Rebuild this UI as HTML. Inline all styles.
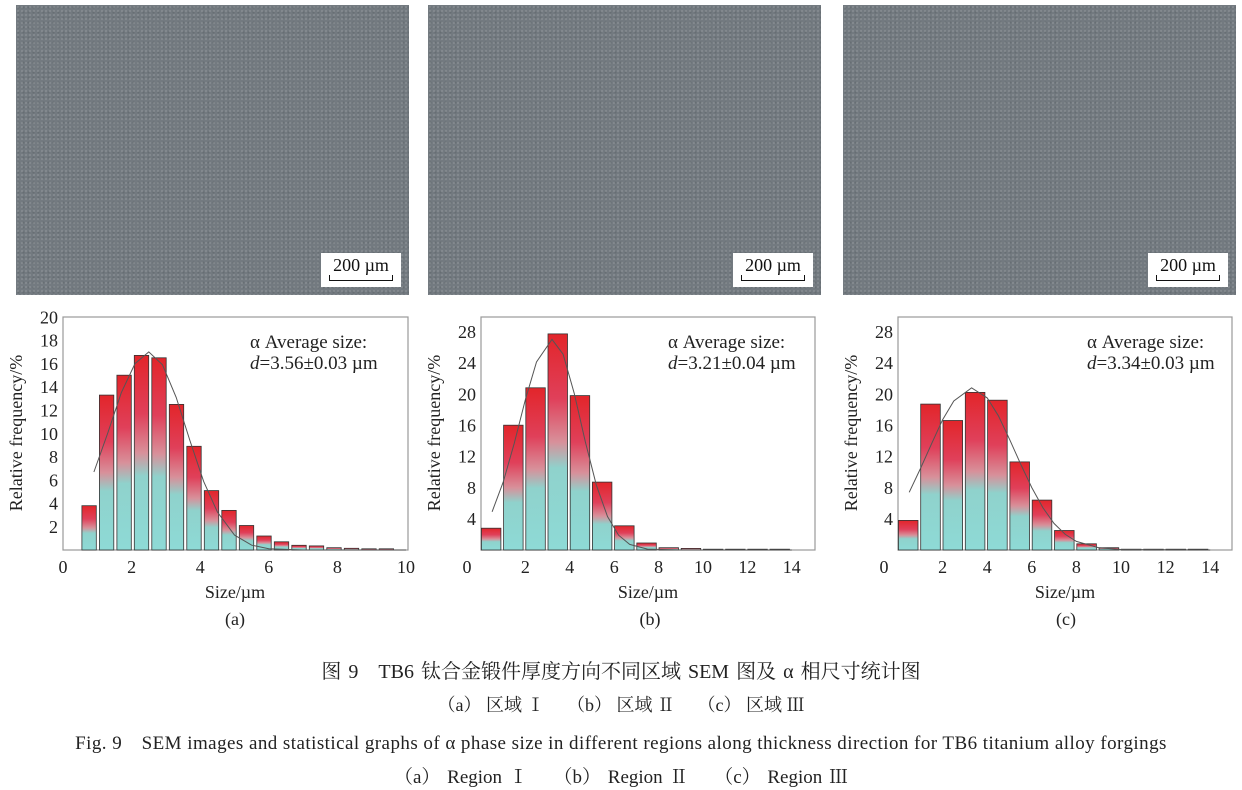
<!DOCTYPE html>
<html><head><meta charset="utf-8"><style>
body{margin:0;background:#fff;width:1242px;height:790px;overflow:hidden;position:relative;font-family:"Liberation Serif","Noto Serif CJK SC",serif;}
.sem{position:absolute;top:5px;height:290px;background:#737a80;background-image:radial-gradient(rgba(255,255,255,.12) 1px,transparent 1.2px),radial-gradient(rgba(0,0,0,.1) 1px,transparent 1.2px);background-size:4px 4px,5px 5px;}
.sb{position:absolute;right:8px;bottom:8px;width:80px;height:34px;background:#fff;text-align:center;font-size:18px;line-height:24px;color:#111;}
.sb i{position:absolute;left:8px;right:8px;bottom:6px;height:5px;border:1px solid #111;border-top:none;}
.cap{position:absolute;left:0;width:1242px;text-align:center;color:#222;white-space:nowrap}
svg{position:absolute;left:0;top:0}
svg text{font-family:"Liberation Serif",serif;font-size:18px;fill:#222}
.bars rect{fill:url(#g);stroke:#333;stroke-width:.8}
.yt text{text-anchor:end}
.xt text{text-anchor:middle}
.fit{fill:none;stroke:#555;stroke-width:1}
.av{font-size:19px!important}
</style></head><body>
<div class="sem" style="left:16px;width:393px"><div class="sb">200 µm<i></i></div></div>
<div class="sem" style="left:428px;width:393px"><div class="sb">200 µm<i></i></div></div>
<div class="sem" style="left:843px;width:393px"><div class="sb">200 µm<i></i></div></div>
<svg width="1242" height="790">
<defs><linearGradient id="g" x1="0" y1="0" x2="0" y2="1">
<stop offset="0" stop-color="#e2252a"/><stop offset="0.3" stop-color="#e0405a"/><stop offset="0.5" stop-color="#d8909a"/><stop offset="0.62" stop-color="#8fd2cc"/><stop offset="1" stop-color="#8edad6"/></linearGradient></defs>

<rect x="63" y="317" width="345" height="233" fill="#fff" stroke="#999" stroke-width="1.2"/>
<g class="bars">
<rect x="81.9" y="505.7" width="14.4" height="44.3"/>
<rect x="99.4" y="395.1" width="14.4" height="154.9"/>
<rect x="116.9" y="375.2" width="14.4" height="174.8"/>
<rect x="134.3" y="355.4" width="14.4" height="194.6"/>
<rect x="151.8" y="357.8" width="14.4" height="192.2"/>
<rect x="169.3" y="404.4" width="14.4" height="145.6"/>
<rect x="186.8" y="446.3" width="14.4" height="103.7"/>
<rect x="204.3" y="490.6" width="14.4" height="59.4"/>
<rect x="221.8" y="510.4" width="14.4" height="39.6"/>
<rect x="239.3" y="525.5" width="14.4" height="24.5"/>
<rect x="256.8" y="536" width="14.4" height="14"/>
<rect x="274.3" y="541.8" width="14.4" height="8.2"/>
<rect x="291.8" y="545.3" width="14.4" height="4.7"/>
<rect x="309.3" y="545.9" width="14.4" height="4.1"/>
<rect x="326.8" y="547.7" width="14.4" height="2.3"/>
<rect x="344.3" y="548.3" width="14.4" height="1.7"/>
<rect x="361.8" y="548.8" width="14.4" height="1.2"/>
<rect x="379.2" y="548.8" width="14.4" height="1.2"/>
</g>
<polyline class="fit" points="93.9,472 107.6,433.5 121.3,392.7 135,363.6 148.8,351.9 162.5,364.8 176.2,397.4 189.9,440.5 203.6,481.3 217.4,512 234.5,535.1 251.7,545.2 268.8,548.7 303,550 406,550"/>
<g class="xt"><text x="63" y="573">0</text><text x="131.6" y="573">2</text><text x="200.2" y="573">4</text><text x="268.8" y="573">6</text><text x="337.4" y="573">8</text><text x="406" y="573">10</text></g>
<g class="yt"><text x="58" y="533">2</text><text x="58" y="509.7">4</text><text x="58" y="486.4">6</text><text x="58" y="463.1">8</text><text x="58" y="439.8">10</text><text x="58" y="416.5">12</text><text x="58" y="393.2">14</text><text x="58" y="369.9">16</text><text x="58" y="346.6">18</text><text x="58" y="323.3">20</text></g>
<text x="235" y="598" text-anchor="middle">Size/µm</text>
<text x="235" y="625" text-anchor="middle">(a)</text>
<text transform="translate(22,433) rotate(-90)" text-anchor="middle">Relative frequency/%</text>
<text class="av" x="250" y="348">α Average size:</text>
<text class="av" x="250" y="369"><tspan font-style="italic">d</tspan>=3.56±0.03 µm</text>

<rect x="481" y="317" width="334" height="233" fill="#fff" stroke="#999" stroke-width="1.2"/>
<g class="bars">
<rect x="481.4" y="528.2" width="19.5" height="21.8"/>
<rect x="503.6" y="425.2" width="19.5" height="124.8"/>
<rect x="525.8" y="387.8" width="19.5" height="162.2"/>
<rect x="548" y="333.9" width="19.5" height="216.1"/>
<rect x="570.2" y="395.6" width="19.5" height="154.4"/>
<rect x="592.4" y="482.1" width="19.5" height="67.9"/>
<rect x="614.6" y="525.8" width="19.5" height="24.2"/>
<rect x="636.8" y="543" width="19.5" height="7"/>
<rect x="659" y="547.7" width="19.5" height="2.3"/>
<rect x="681.2" y="548.4" width="19.5" height="1.6"/>
<rect x="703.4" y="549.2" width="19.5" height=".8"/>
<rect x="725.6" y="549.2" width="19.5" height=".8"/>
<rect x="747.8" y="549.2" width="19.5" height=".8"/>
<rect x="770" y="549.2" width="19.5" height=".8"/>
</g>
<polyline class="fit" points="492.1,511.8 503.2,482.1 514.3,443.1 525.4,399.5 536.5,362 552,339.4 563.1,354.2 574.2,393.2 585.3,441.6 596.4,485.3 607.5,516.5 618.6,535.2 629.7,544.4 647.5,549.1 680.8,550 791.8,550"/>
<g class="xt"><text x="467" y="573">0</text><text x="525.4" y="573">2</text><text x="569.8" y="573">4</text><text x="614.2" y="573">6</text><text x="658.6" y="573">8</text><text x="703" y="573">10</text><text x="747.4" y="573">12</text><text x="791.8" y="573">14</text></g>
<g class="yt"><text x="476" y="525">4</text><text x="476" y="494">8</text><text x="476" y="462.7">12</text><text x="476" y="431.5">16</text><text x="476" y="400.3">20</text><text x="476" y="369">24</text><text x="476" y="338">28</text></g>
<text x="648" y="598" text-anchor="middle">Size/µm</text>
<text x="650" y="625" text-anchor="middle">(b)</text>
<text transform="translate(440,433) rotate(-90)" text-anchor="middle">Relative frequency/%</text>
<text class="av" x="668" y="348">α Average size:</text>
<text class="av" x="668" y="369"><tspan font-style="italic">d</tspan>=3.21±0.04 µm</text>

<rect x="898" y="317" width="334" height="233" fill="#fff" stroke="#999" stroke-width="1.2"/>
<g class="bars">
<rect x="898.4" y="520.4" width="19.6" height="29.6"/>
<rect x="920.7" y="404.1" width="19.6" height="145.9"/>
<rect x="943" y="420.5" width="19.6" height="129.5"/>
<rect x="965.3" y="392.4" width="19.6" height="157.6"/>
<rect x="987.6" y="400.2" width="19.6" height="149.8"/>
<rect x="1009.9" y="461.9" width="19.6" height="88.1"/>
<rect x="1032.2" y="500.1" width="19.6" height="49.9"/>
<rect x="1054.5" y="530.5" width="19.6" height="19.5"/>
<rect x="1076.8" y="543.8" width="19.6" height="6.2"/>
<rect x="1099.1" y="547.7" width="19.6" height="2.3"/>
<rect x="1121.4" y="549.2" width="19.6" height=".8"/>
<rect x="1143.7" y="549.2" width="19.6" height=".8"/>
<rect x="1166" y="549.2" width="19.6" height=".8"/>
<rect x="1188.3" y="549.2" width="19.6" height=".8"/>
</g>
<polyline class="fit" points="909.2,492.3 920.3,468.9 931.5,443.9 942.6,419.7 953.8,401 971.6,387.8 987.2,397.9 998.4,415.8 1009.5,439.2 1020.7,464.2 1031.8,487.6 1043,507.9 1054.1,523.5 1065.3,534.4 1076.4,541.4 1098.7,547.7 1121,549.5 1210.2,550"/>
<g class="xt"><text x="884" y="573">0</text><text x="942.6" y="573">2</text><text x="987.2" y="573">4</text><text x="1031.8" y="573">6</text><text x="1076.4" y="573">8</text><text x="1121" y="573">10</text><text x="1165.6" y="573">12</text><text x="1210.2" y="573">14</text></g>
<g class="yt"><text x="893" y="525">4</text><text x="893" y="494">8</text><text x="893" y="462.7">12</text><text x="893" y="431.5">16</text><text x="893" y="400.3">20</text><text x="893" y="369">24</text><text x="893" y="338">28</text></g>
<text x="1065" y="598" text-anchor="middle">Size/µm</text>
<text x="1066" y="625" text-anchor="middle">(c)</text>
<text transform="translate(857,433) rotate(-90)" text-anchor="middle">Relative frequency/%</text>
<text class="av" x="1087" y="348">α Average size:</text>
<text class="av" x="1087" y="369"><tspan font-style="italic">d</tspan>=3.34±0.03 µm</text>
</svg>
<div class="cap" style="top:655px;font-size:20px;word-spacing:2px">图 9　TB6 钛合金锻件厚度方向不同区域 SEM 图及 α 相尺寸统计图</div>
<div class="cap" style="top:691px;font-size:18px">（a） 区域 Ⅰ　 （b） 区域 Ⅱ　 （c） 区域 Ⅲ</div>
<div class="cap" style="top:728px;font-size:19px;letter-spacing:0.45px">Fig. 9　SEM images and statistical graphs of α phase size in different regions along thickness direction for TB6 titanium alloy forgings</div>
<div class="cap" style="top:762px;font-size:19px;word-spacing:2px">（a） Region Ⅰ　 （b） Region Ⅱ　 （c） Region Ⅲ</div>
</body></html>
